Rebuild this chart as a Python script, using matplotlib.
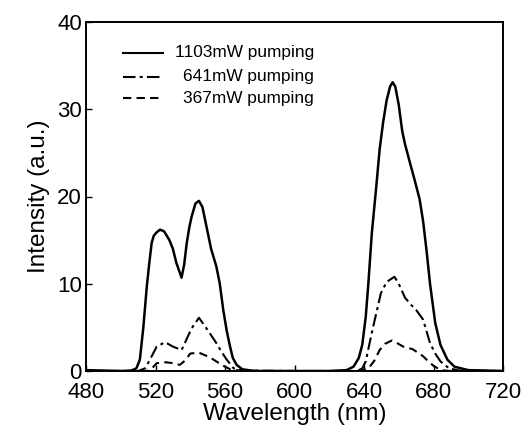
import matplotlib.pyplot as plt
from matplotlib.lines import Line2D

plt.rcParams['font.family'] = ['Liberation Sans', 'DejaVu Sans']

# 1103mW pumping
wl_high = [480, 490, 500, 506, 509, 511, 513, 515, 516.5, 517.8, 519, 520.7, 522.6, 525, 528, 530,
           532, 535, 536.5, 538, 539.5, 540.8, 543, 545, 547, 549.4, 552, 555, 557, 559, 561,
           562.9, 564.5, 566.7, 570, 575, 580,
           600, 620, 630, 634, 637, 639, 641, 642.5, 644.5, 647, 649, 651, 653, 655, 656.5,
           658, 660, 662, 663.6, 666, 669, 672, 674, 676, 678, 681, 684, 688, 692, 700, 710, 720]
int_high = [0.1, 0.05, 0.0, 0.05, 0.3, 1.3, 5, 9.7, 12.5, 14.7, 15.5, 15.9, 16.2, 16.0, 15.0, 14.0,
            12.4, 10.7, 12.2, 14.7, 16.5, 17.7, 19.2, 19.5, 18.8, 16.5, 14.0, 12.0, 10.0, 7.0, 4.6,
            2.8, 1.5, 0.7, 0.2, 0.05, 0.0,
            0.0, 0.0, 0.1, 0.5, 1.5, 3.0, 6.2, 10.0, 15.8, 21.0, 25.4, 28.5, 31.0, 32.6, 33.1,
            32.6, 30.5, 27.5, 26.0, 24.2, 22.0, 19.7, 17.2, 13.8, 10.0, 5.5, 3.0, 1.3, 0.5, 0.1, 0.05, 0.0]

# 641mW pumping
wl_mid = [480, 510, 514, 516.8, 520.7, 525.5, 530, 535, 540.8, 545, 550, 555, 558, 561, 565, 570,
          600, 636, 639, 641, 644.5, 649.7, 653, 657.5, 660, 663.6, 667, 670, 674, 678, 681,
          684, 689, 695, 720]
int_mid = [0.0, 0.0, 0.3, 1.3, 2.8, 3.3, 2.8, 2.4, 4.9, 6.1, 4.7, 3.2, 2.2, 1.3, 0.3, 0.05,
           0.0, 0.0, 0.3, 1.1, 4.4, 8.9, 10.2, 10.8, 10.0, 8.4, 7.6, 7.0, 5.9, 3.2, 2.0,
           1.1, 0.3, 0.05, 0.0]

# 367mW pumping
wl_low = [480, 515, 518, 520.7, 526, 530, 534, 537, 540, 545, 551, 555, 559, 563, 570,
          600, 638, 643, 646, 649, 652, 656, 659, 662.5, 668, 674, 677, 680, 684, 690, 720]
int_low = [0.0, 0.0, 0.3, 0.9, 1.0, 0.9, 0.7, 1.2, 2.0, 2.1, 1.6, 1.1, 0.6, 0.2, 0.0,
           0.0, 0.0, 0.4, 1.2, 2.4, 3.1, 3.5, 3.2, 2.8, 2.5, 1.7, 1.1, 0.6, 0.1, 0.0, 0.0]

labels = ['1103mW pumping', '641mW pumping', '367mW pumping']
styles = ['-', (0, (6, 2, 1.5, 2)), (0, (4, 2.5))]

fig = plt.figure(figsize=(5.27, 4.33), dpi=100)
ax = fig.add_axes([86 / 527, 1 - 371 / 433, (503 - 86) / 527, (371 - 22) / 433])

ax.plot(wl_high, int_high, color='black', linestyle=styles[0], linewidth=1.8)
ax.plot(wl_mid, int_mid, color='black', linestyle=styles[1], linewidth=1.5)
ax.plot(wl_low, int_low, color='black', linestyle=styles[2], linewidth=1.5)

ax.set_xlim(480, 720)
ax.set_ylim(0, 40)
ax.set_xticks([480, 520, 560, 600, 640, 680, 720])
ax.set_yticks([0, 10, 20, 30, 40])
ax.tick_params(direction='in', length=4, width=1, labelsize=16)
ax.tick_params(axis='x', pad=8)
ax.tick_params(axis='y', pad=3)
for s in ax.spines.values():
    s.set_linewidth(1.4)
ax.set_xlabel('Wavelength (nm)', fontsize=17.5, labelpad=0)
ax.set_ylabel('Intensity (a.u.)', fontsize=17.5, labelpad=5)

# legend drawn by hand so the texts are right aligned like the original
leg_y = [53, 77, 98]
for lab, ls, yp in zip(labels, styles, leg_y):
    yf = 1 - (yp - 22) / 349
    x0 = (123 - 86) / 417
    x1 = (163 - 86) / 417
    ax.add_line(Line2D([x0, x1], [yf, yf], transform=ax.transAxes, color='black',
                       linestyle=ls, linewidth=1.5))
    ax.text((314 - 86) / 417, yf, lab, transform=ax.transAxes, ha='right', va='center',
            fontsize=12.4)

plt.savefig('out.png', dpi=100)
